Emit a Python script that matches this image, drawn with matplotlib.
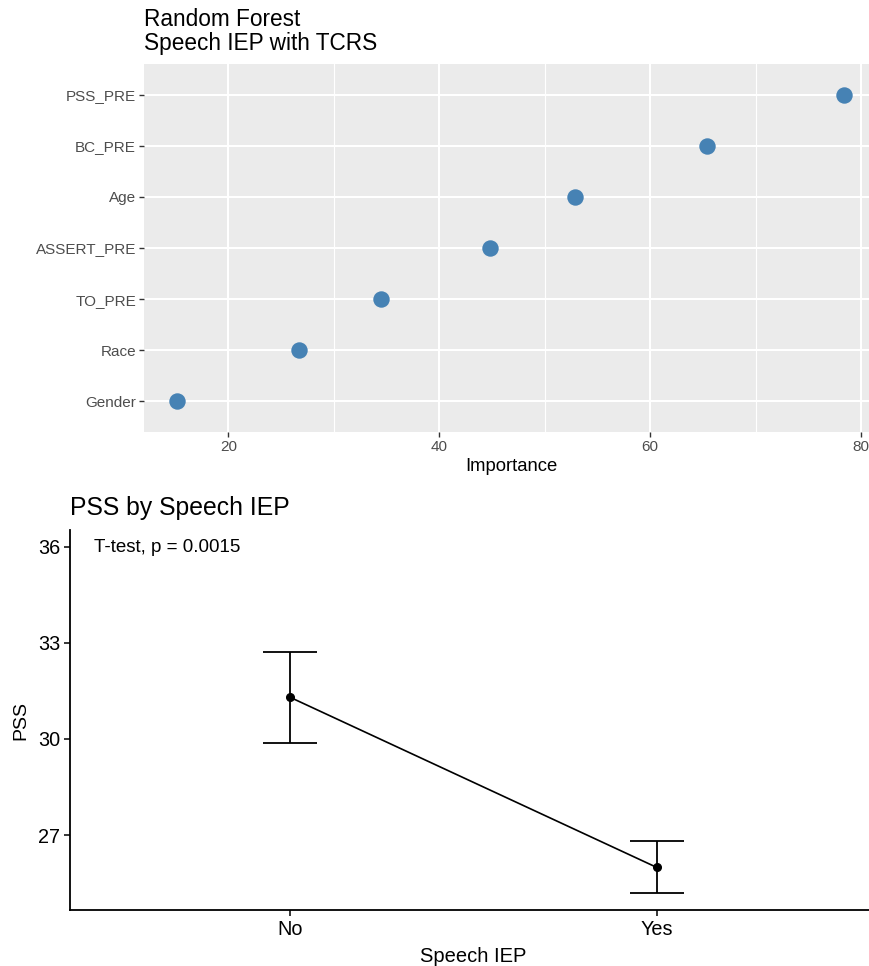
import numpy as np
import matplotlib
matplotlib.use('Agg')
import matplotlib.pyplot as plt

plt.rcParams['font.family'] = ['Liberation Sans', 'DejaVu Sans']

# random forest variable importance
features = ['Gender', 'Race', 'TO_PRE', 'ASSERT_PRE', 'Age', 'BC_PRE', 'PSS_PRE']
importance = [15.1, 26.7, 34.5, 44.8, 52.9, 65.4, 78.4]

# PSS means by speech IEP group
groups = ['No', 'Yes']
pss_mean = [31.30, 25.99]
pss_low = [29.88, 25.20]
pss_high = [32.71, 26.80]

W, H = 870, 966
fig = plt.figure(figsize=(W / 100, H / 100), dpi=100)

def box(l, t, r, b):
	return [l / W, 1 - b / H, (r - l) / W, (b - t) / H]

# ---- top panel
ax1 = fig.add_axes(box(144, 64, 878, 432))
ax1.set_facecolor('#EBEBEB')
for s in ax1.spines.values():
	s.set_visible(False)
ypos = np.arange(len(features))
ax1.set_xlim(12.0, 81.6)
ax1.set_ylim(-0.6, len(features) - 0.4)
ax1.set_xticks([20, 40, 60, 80])
ax1.set_xticks([30, 50, 70], minor=True)
ax1.set_yticks(ypos)
ax1.set_yticklabels(features)
ax1.grid(True, which='major', color='white', linewidth=1.5)
ax1.grid(True, which='minor', axis='x', color='white', linewidth=0.8)
ax1.set_axisbelow(True)
ax1.tick_params(which='major', colors='#333333', labelcolor='#4D4D4D', labelsize=11,
				length=3.3, width=1.0, pad=2.5)
ax1.tick_params(which='minor', length=0)
ax1.scatter(importance, ypos, s=140, color='#4682B4', zorder=3, linewidths=0)
ax1.set_xlabel('Importance', fontsize=13.3, labelpad=3)
fig.text(144 / W, 1 - 26 / H, 'Random Forest', fontsize=16.3, va='baseline', ha='left')
fig.text(144 / W, 1 - 50 / H, 'Speech IEP with TCRS', fontsize=16.3, va='baseline', ha='left')

# ---- bottom panel
ax2 = fig.add_axes(box(70, 530, 876.7, 910))
xg = np.arange(len(groups))
ax2.set_xlim(-0.6, 1.6)
ax2.set_ylim(24.66, 36.52)
yerr = [np.array(pss_mean) - np.array(pss_low), np.array(pss_high) - np.array(pss_mean)]
ax2.errorbar(xg, pss_mean, yerr=yerr, color='black', linewidth=1.2, elinewidth=1.3,
			 capsize=19.4, capthick=1.3, marker='o', markersize=5.5)
ax2.spines['top'].set_visible(False)
ax2.spines['right'].set_visible(False)
ax2.spines['left'].set_linewidth(1.3)
ax2.spines['bottom'].set_linewidth(1.3)
ax2.set_xticks(xg)
ax2.set_xticklabels(groups)
ax2.set_yticks([27, 30, 33, 36])
ax2.tick_params(colors='black', labelsize=14.3, length=4, width=1.1, pad=3)
ax2.set_xlabel('Speech IEP', fontsize=14.5, labelpad=6)
ax2.set_ylabel('PSS', fontsize=14, labelpad=6)
ax2.text(94 / W, 1 - 548 / H, 'T-test, p = 0.0015', transform=fig.transFigure,
		 fontsize=13.5, va='center', ha='left')
fig.text(70 / W, 1 - 515 / H, 'PSS by Speech IEP', fontsize=17.8, va='baseline', ha='left')

fig.savefig('out.png', dpi=100)
